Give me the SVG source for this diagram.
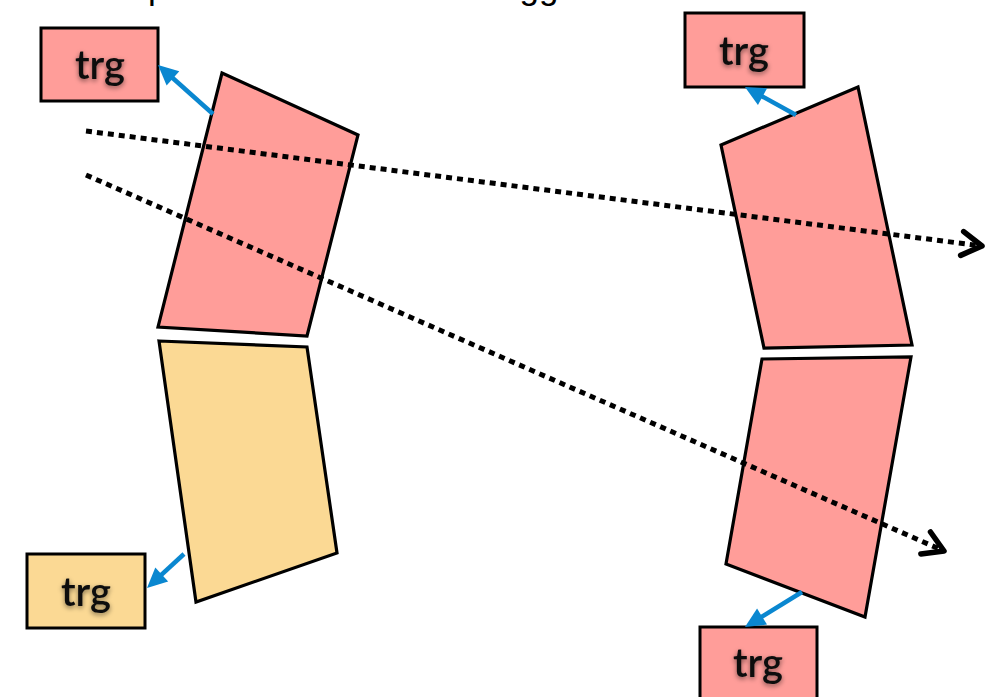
<svg xmlns="http://www.w3.org/2000/svg" width="988" height="697" viewBox="0 0 988 697">
  <defs>
    <style>
      .panel-red { fill: #FF9D99; stroke: #000; stroke-width: 3.2; stroke-linejoin: miter; }
      .panel-yel { fill: #FBD994; stroke: #000; stroke-width: 3.2; stroke-linejoin: miter; }
      .box-red { fill: #FF9D99; stroke: #000; stroke-width: 3; }
      .box-yel { fill: #FBD994; stroke: #000; stroke-width: 3; }
      .lbl { font-family: Lato, "Open Sans", "Liberation Sans", sans-serif; font-size: 40px; font-weight: 600; fill: #111; text-anchor: middle; filter: url(#glow); }
      .track { fill: none; stroke: #000; stroke-width: 5; stroke-dasharray: 6 5; marker-end: url(#chev); }
      .sig { fill: none; stroke: #0A87D0; stroke-width: 4.5; marker-end: url(#tri); }
      .title { font-family: "Liberation Sans", Arial, sans-serif; font-size: 35px; fill: #000; }
    </style>
    <filter id="glow" x="-30%" y="-30%" width="160%" height="160%">
      <feGaussianBlur in="SourceAlpha" stdDeviation="2.5" result="b"/>
      <feOffset in="b" dx="0" dy="2" result="o"/>
      <feComponentTransfer in="o" result="s">
        <feFuncA type="linear" slope="0.5"/>
      </feComponentTransfer>
      <feMerge>
        <feMergeNode in="s"/>
        <feMergeNode in="SourceGraphic"/>
      </feMerge>
    </filter>
    <marker id="chev" markerUnits="userSpaceOnUse" viewBox="-30 -20 40 40" markerWidth="40" markerHeight="40" refX="0" refY="0" orient="auto" overflow="visible">
      <path d="M-20,-12 L0,0 L-20,12" fill="none" stroke="#000" stroke-width="5.5" stroke-linecap="round" stroke-linejoin="round"/>
    </marker>
    <marker id="tri" markerUnits="userSpaceOnUse" viewBox="-20 -12 32 24" markerWidth="32" markerHeight="24" refX="0" refY="0" orient="auto" overflow="visible">
      <path d="M8,0 L-12,-9.5 L-12,9.5 Z" fill="#0A87D0"/>
    </marker>
  </defs>

  <!-- heading, running off the top edge -->
  <text class="title" x="111" y="-1">Top-bottom coincidence trigger</text>

  <!-- scintillator panels -->
  <g id="panel-left-top">
    <polygon class="panel-red" points="222,73 358,135 307,336 158,327"/>
  </g>
  <g id="panel-left-bottom">
    <polygon class="panel-yel" points="159,341 307,347 337,553 196,602"/>
  </g>
  <g id="panel-right-top">
    <polygon class="panel-red" points="721,145 858,87 912,345 764,348"/>
  </g>
  <g id="panel-right-bottom">
    <polygon class="panel-red" points="762,359 911,357 865,617 726,564"/>
  </g>

  <!-- trigger boxes -->
  <g id="trg-left-top">
    <rect class="box-red" x="41" y="28" width="117" height="73"/>
    <text class="lbl" x="100" y="79">trg</text>
  </g>
  <g id="trg-left-bottom">
    <rect class="box-yel" x="27" y="554" width="118" height="74"/>
    <text class="lbl" x="86" y="606">trg</text>
  </g>
  <g id="trg-right-top">
    <rect class="box-red" x="685" y="13" width="119" height="74"/>
    <text class="lbl" x="744" y="65">trg</text>
  </g>
  <g id="trg-right-bottom">
    <rect class="box-red" x="700" y="627" width="117" height="80"/>
    <text class="lbl" x="758" y="677">trg</text>
  </g>

  <!-- connectors: particle tracks and trigger signals -->
  <g id="connectors">
    <line class="track" x1="86" y1="131" x2="982" y2="246"/>
    <line class="track" x1="86" y1="175" x2="944" y2="551"/>
    <line class="sig" x1="213" y1="114" x2="164" y2="70.3"/>
    <line class="sig" x1="184" y1="554" x2="152.9" y2="582.6"/>
    <line class="sig" x1="796" y1="115" x2="752" y2="90.8"/>
    <line class="sig" x1="802" y1="592" x2="751.8" y2="622.8"/>
  </g>
</svg>
